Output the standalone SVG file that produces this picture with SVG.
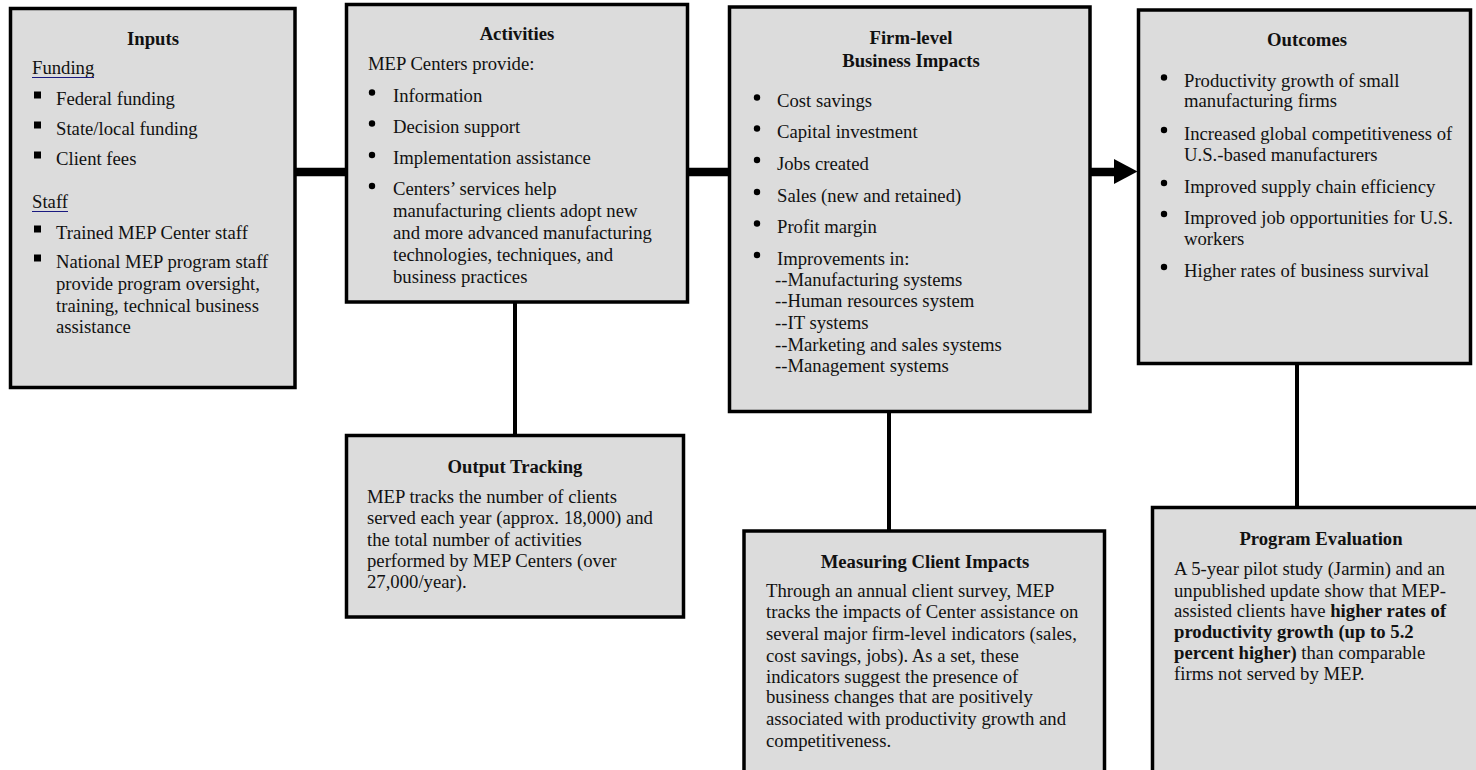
<svg xmlns="http://www.w3.org/2000/svg" width="1476" height="770" viewBox="0 0 1476 770">
<style>
.box{fill:#dcdcdc;stroke:#000;stroke-width:3.5}
text{font-family:"Liberation Serif","Times New Roman",serif;font-size:18.7px;fill:#111}
.t{font-weight:bold;text-anchor:middle}
.b{font-weight:bold}
.dot{fill:#000}
.sq{fill:#000}
.ul{stroke:#1a1a80;stroke-width:1.2}
.thick{stroke:#000;stroke-width:8.5;fill:none}
.thin{stroke:#000;stroke-width:4;fill:none}
</style>
<rect width="1476" height="770" fill="#fff"/>
<g id="connectors">
<line class="thick" x1="296" y1="172" x2="346" y2="172"/>
<line class="thick" x1="688" y1="172" x2="729" y2="172"/>
<line class="thick" x1="1090" y1="172" x2="1116" y2="172"/>
<polygon points="1114,159 1137.5,171.5 1114,184" fill="#000"/>
<line class="thin" x1="515" y1="302" x2="515" y2="436"/>
<line class="thin" x1="889" y1="412" x2="889" y2="531"/>
<line class="thin" x1="1297" y1="364" x2="1297" y2="508"/>
</g>
<g id="inputs">
<rect class="box" x="10.5" y="8.5" width="284.5" height="379"/>
<text class="t" x="153" y="45">Inputs</text>
<text x="32" y="74">Funding</text>
<line class="ul" x1="32" y1="77.5" x2="94" y2="77.5"/>
<rect class="sq" x="34" y="91.5" width="7" height="7"/>
<text x="56" y="105">Federal funding</text>
<rect class="sq" x="34" y="121.5" width="7" height="7"/>
<text x="56" y="135">State/local funding</text>
<rect class="sq" x="34" y="151.5" width="7" height="7"/>
<text x="56" y="165">Client fees</text>
<text x="32" y="208">Staff</text>
<line class="ul" x1="32" y1="211.5" x2="68" y2="211.5"/>
<rect class="sq" x="34" y="225.5" width="7" height="7"/>
<text x="56" y="239">Trained MEP Center staff</text>
<rect class="sq" x="34" y="254.5" width="7" height="7"/>
<text x="56" y="268">National MEP program staff</text>
<text x="56" y="290">provide program oversight,</text>
<text x="56" y="312">training, technical business</text>
<text x="56" y="333">assistance</text>
</g>
<g id="activities">
<rect class="box" x="346.5" y="4.5" width="341" height="297.5"/>
<text class="t" x="517" y="40">Activities</text>
<text x="368" y="70">MEP Centers provide:</text>
<circle class="dot" cx="372" cy="92.5" r="3.2"/>
<text x="393" y="101.5">Information</text>
<circle class="dot" cx="372" cy="123.5" r="3.2"/>
<text x="393" y="132.5">Decision support</text>
<circle class="dot" cx="372" cy="155" r="3.2"/>
<text x="393" y="164">Implementation assistance</text>
<circle class="dot" cx="372" cy="186" r="3.2"/>
<text x="393" y="195">Centers’ services help</text>
<text x="393" y="217">manufacturing clients adopt new</text>
<text x="393" y="239">and more advanced manufacturing</text>
<text x="393" y="261">technologies, techniques, and</text>
<text x="393" y="283">business practices</text>
</g>
<g id="firm-impacts">
<rect class="box" x="729.5" y="7" width="360.5" height="404.5"/>
<text class="t" x="911" y="44">Firm-level</text>
<text class="t" x="911" y="67">Business Impacts</text>
<circle class="dot" cx="757" cy="97.5" r="3.2"/>
<text x="777" y="107.3">Cost savings</text>
<circle class="dot" cx="757" cy="128.5" r="3.2"/>
<text x="777" y="138.3">Capital investment</text>
<circle class="dot" cx="757" cy="160" r="3.2"/>
<text x="777" y="170">Jobs created</text>
<circle class="dot" cx="757" cy="192" r="3.2"/>
<text x="777" y="202">Sales (new and retained)</text>
<circle class="dot" cx="757" cy="223.5" r="3.2"/>
<text x="777" y="233.3">Profit margin</text>
<circle class="dot" cx="757" cy="255" r="3.2"/>
<text x="777" y="265">Improvements in:</text>
<text x="775" y="286">--Manufacturing systems</text>
<text x="775" y="307.3">--Human resources system</text>
<text x="775" y="329">--IT systems</text>
<text x="775" y="350.7">--Marketing and sales systems</text>
<text x="775" y="371.7">--Management systems</text>
</g>
<g id="outcomes">
<rect class="box" x="1138.5" y="10" width="332" height="353.5"/>
<text class="t" x="1307" y="46">Outcomes</text>
<circle class="dot" cx="1164" cy="77.5" r="3.2"/>
<text x="1184" y="87.3">Productivity growth of small</text>
<text x="1184" y="107.3">manufacturing firms</text>
<circle class="dot" cx="1164" cy="130" r="3.2"/>
<text x="1184" y="140">Increased global competitiveness of</text>
<text x="1184" y="160.7">U.S.-based manufacturers</text>
<circle class="dot" cx="1164" cy="183" r="3.2"/>
<text x="1184" y="192.7">Improved supply chain efficiency</text>
<circle class="dot" cx="1164" cy="214" r="3.2"/>
<text x="1184" y="224">Improved job opportunities for U.S.</text>
<text x="1184" y="245">workers</text>
<circle class="dot" cx="1164" cy="267" r="3.2"/>
<text x="1184" y="276.7">Higher rates of business survival</text>
</g>
<g id="output-tracking">
<rect class="box" x="346.5" y="435.5" width="337" height="181.5"/>
<text class="t" x="515" y="473.3">Output Tracking</text>
<text x="367" y="503.3">MEP tracks the number of clients</text>
<text x="367" y="524">served each year (approx. 18,000) and</text>
<text x="367" y="545.7">the total number of activities</text>
<text x="367" y="566.7">performed by MEP Centers (over</text>
<text x="367" y="588.3">27,000/year).</text>
</g>
<g id="measuring-client-impacts">
<rect class="box" x="744" y="531" width="360.5" height="260"/>
<text class="t" x="925" y="568.3">Measuring Client Impacts</text>
<text x="766" y="597.3">Through an annual client survey, MEP</text>
<text x="766" y="618.3">tracks the impacts of Center assistance on</text>
<text x="766" y="640">several major firm-level indicators (sales,</text>
<text x="766" y="661.7">cost savings, jobs). As a set, these</text>
<text x="766" y="682.7">indicators suggest the presence of</text>
<text x="766" y="703.3">business changes that are positively</text>
<text x="766" y="725">associated with productivity growth and</text>
<text x="766" y="746.7">competitiveness.</text>
</g>
<g id="program-evaluation">
<rect class="box" x="1152.5" y="507.5" width="340" height="300"/>
<text class="t" x="1321" y="545">Program Evaluation</text>
<text x="1174" y="575">A 5-year pilot study (Jarmin) and an</text>
<text x="1174" y="596.7">unpublished update show that MEP-</text>
<text x="1174" y="616.7">assisted clients have <tspan class="b">higher rates of</tspan></text>
<text x="1174" y="638.3" class="b">productivity growth (up to 5.2</text>
<text x="1174" y="659.3"><tspan class="b">percent higher)</tspan> than comparable</text>
<text x="1174" y="680">firms not served by MEP.</text>
</g>
</svg>
